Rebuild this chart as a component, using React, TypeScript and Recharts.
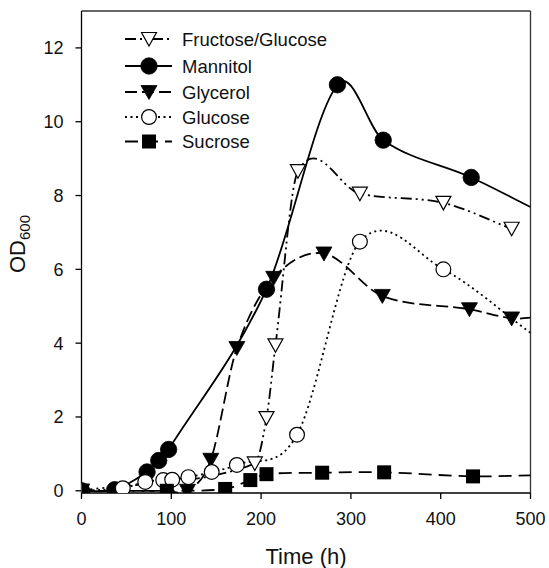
import React from "react";
import { LineChart, Line, XAxis, YAxis, ReferenceLine, Legend } from "recharts";

// ---- data (time in h, OD600) ----
const fructoseGlucoseTime = [0, 193, 206, 216, 241, 310, 403, 479];
const fructoseGlucoseOD = [0, 0.74, 1.97, 3.94, 8.66, 8.05, 7.8, 7.1];

const mannitolTime = [0, 37, 73, 86, 97, 206, 285, 336, 434, 500];
const mannitolOD = [0, 0.03, 0.51, 0.82, 1.12, 5.46, 11.0, 9.5, 8.49, 7.69];

const glycerolTime = [0, 95, 118, 144, 173, 214, 270, 335, 432, 479, 500];
const glycerolOD = [0, 0, 0, 0.84, 3.87, 5.77, 6.43, 5.28, 4.92, 4.67, 4.69];

const glucoseTime = [0, 46, 71, 91, 101, 119, 145, 173, 240, 310, 403, 500];
const glucoseOD = [0, 0.07, 0.24, 0.29, 0.3, 0.37, 0.51, 0.7, 1.52, 6.75, 6.0, 4.28];

const sucroseTime = [0, 95, 160, 188, 206, 268, 337, 436, 500];
const sucroseOD = [0, 0, 0.05, 0.29, 0.45, 0.49, 0.5, 0.39, 0.42];

const xTicks = [0, 100, 200, 300, 400, 500];
const yTicks = [0, 2, 4, 6, 8, 10, 12];

const seriesNames = ["Fructose/Glucose", "Mannitol", "Glycerol", "Glucose", "Sucrose"];

const toRows = (t: number[], v: number[]) => t.map((x, i) => ({ t: x, v: v[i] }));

// ---- styles ----
const FONT = "'Liberation Sans', Arial, Helvetica, sans-serif";
const X_END = 500;

type Kind = "openTri" | "filledCircle" | "filledTri" | "openCircle" | "filledSquare";

const seriesStyle: { kind: Kind; dash: string | undefined }[] = [
  { kind: "openTri", dash: "11 4 2 4 2 4" },
  { kind: "filledCircle", dash: undefined },
  { kind: "filledTri", dash: "12 5" },
  { kind: "openCircle", dash: "2 3.5" },
  { kind: "filledSquare", dash: "13 7" },
];

const seriesData = [
  toRows(fructoseGlucoseTime, fructoseGlucoseOD),
  toRows(mannitolTime, mannitolOD),
  toRows(glycerolTime, glycerolOD),
  toRows(glucoseTime, glucoseOD),
  toRows(sucroseTime, sucroseOD),
];

// cubic Hermite curve with finite-difference tangents (spline-like, local)
function splineCurve(context: any) {
  let xs: number[] = [];
  let ys: number[] = [];
  return {
    areaStart() {},
    areaEnd() {},
    lineStart() {
      xs = [];
      ys = [];
    },
    point(x: number, y: number) {
      xs.push(+x);
      ys.push(+y);
    },
    lineEnd() {
      const n = xs.length;
      if (n === 0) return;
      context.moveTo(xs[0], ys[0]);
      if (n === 1) return;
      if (n === 2) {
        context.lineTo(xs[1], ys[1]);
        return;
      }
      const m: number[] = [];
      for (let i = 0; i < n; i++) {
        if (i === 0) m.push((ys[1] - ys[0]) / (xs[1] - xs[0]));
        else if (i === n - 1) m.push((ys[n - 1] - ys[n - 2]) / (xs[n - 1] - xs[n - 2]));
        else m.push((ys[i + 1] - ys[i - 1]) / (xs[i + 1] - xs[i - 1]));
      }
      for (let i = 0; i < n - 1; i++) {
        const d = (xs[i + 1] - xs[i]) / 3;
        context.bezierCurveTo(
          xs[i] + d,
          ys[i] + m[i] * d,
          xs[i + 1] - d,
          ys[i + 1] - m[i + 1] * d,
          xs[i + 1],
          ys[i + 1]
        );
      }
    },
  };
}

function Marker({ kind, cx, cy }: { kind: Kind; cx: number; cy: number }) {
  switch (kind) {
    case "filledCircle":
      return <circle cx={cx} cy={cy} r={8.2} fill="#000" stroke="#000" strokeWidth={0.8} />;
    case "openCircle":
      return <circle cx={cx} cy={cy} r={7.4} fill="#fff" stroke="#000" strokeWidth={1.2} />;
    case "filledTri":
      return (
        <polygon
          points={`${cx - 8},${cy - 6.5} ${cx + 8},${cy - 6.5} ${cx},${cy + 7.5}`}
          fill="#000"
          stroke="#000"
          strokeWidth={0.8}
        />
      );
    case "openTri":
      return (
        <polygon
          points={`${cx - 7.5},${cy - 6.5} ${cx + 7.5},${cy - 6.5} ${cx},${cy + 7}`}
          fill="#fff"
          stroke="#000"
          strokeWidth={1.2}
        />
      );
    case "filledSquare":
      return <rect x={cx - 7} y={cy - 7} width={14} height={14} fill="#000" />;
  }
  return null;
}

const makeDot = (kind: Kind) => (props: any) => {
  const { cx, cy, payload, index } = props;
  if (cx == null || cy == null || !payload || payload.t >= X_END) {
    return <g key={`d-${kind}-${index}`} />;
  }
  return (
    <g key={`d-${kind}-${index}`}>
      <Marker kind={kind} cx={cx} cy={cy} />
    </g>
  );
};

const LEGEND_ROWS = [14, 41, 67, 92, 116.5];

function LegendBox() {
  return (
    <svg width={260} height={135} style={{ display: "block", overflow: "visible" }}>
      {seriesNames.map((name, i) => {
        const y = LEGEND_ROWS[i];
        const st = seriesStyle[i];
        return (
          <g key={name}>
            <line x1={15} x2={62} y1={y} y2={y} stroke="#000" strokeWidth={2} strokeDasharray={st.dash} />
            <Marker kind={st.kind} cx={39} cy={y} />
            <text x={72} y={y + 6.5} fontSize={18.5} fontFamily={FONT} fill="#111">
              {name}
            </text>
          </g>
        );
      })}
    </svg>
  );
}

export default function App() {
  return (
    <div style={{ position: "absolute", left: 0, top: 0, background: "#fff" }}>
      <LineChart width={549} height={568} margin={{ top: 11, right: 18.5, bottom: 45, left: 11.5 }}>
        <XAxis
          dataKey="t"
          type="number"
          domain={[0, 500]}
          ticks={xTicks}
          allowDataOverflow
          height={30}
          tickSize={6}
          tickMargin={13}
          stroke="#000"
          strokeWidth={1.3}
          tick={{ fontSize: 18, fontFamily: FONT, fill: "#111" }}
          label={{
            content: () => (
              <text x={306} y={564} textAnchor="middle" fontSize={22} fontFamily={FONT} fill="#111">
                Time (h)
              </text>
            ),
          }}
        />
        <YAxis
          type="number"
          domain={[-0.06, 13]}
          ticks={yTicks}
          allowDataOverflow
          width={70}
          tickSize={6}
          tickMargin={12}
          stroke="#000"
          strokeWidth={1.3}
          tick={{ fontSize: 18, fontFamily: FONT, fill: "#111" }}
          label={{
            content: () => (
              <text
                x={25}
                y={244}
                textAnchor="middle"
                transform="rotate(-90, 25, 244)"
                fontSize={22}
                fontFamily={FONT}
                fill="#111"
              >
                OD
                <tspan fontSize={15} dy={5}>
                  600
                </tspan>
              </text>
            ),
          }}
        />
        <ReferenceLine y={13} stroke="#333" strokeWidth={1.3} />
        <ReferenceLine x={500} stroke="#333" strokeWidth={1.3} />
        {seriesNames.map((name, i) => (
          <Line
            key={name}
            name={name}
            data={seriesData[i]}
            dataKey="v"
            type={splineCurve as any}
            stroke="#000"
            strokeWidth={1.8}
            strokeDasharray={seriesStyle[i].dash}
            dot={makeDot(seriesStyle[i].kind)}
            activeDot={false}
            isAnimationActive={false}
          />
        ))}
        <Legend
          layout="vertical"
          align="center"
          verticalAlign="middle"
          wrapperStyle={{ left: 110, top: 25, width: 260 }}
          content={() => <LegendBox />}
        />
      </LineChart>
    </div>
  );
}
